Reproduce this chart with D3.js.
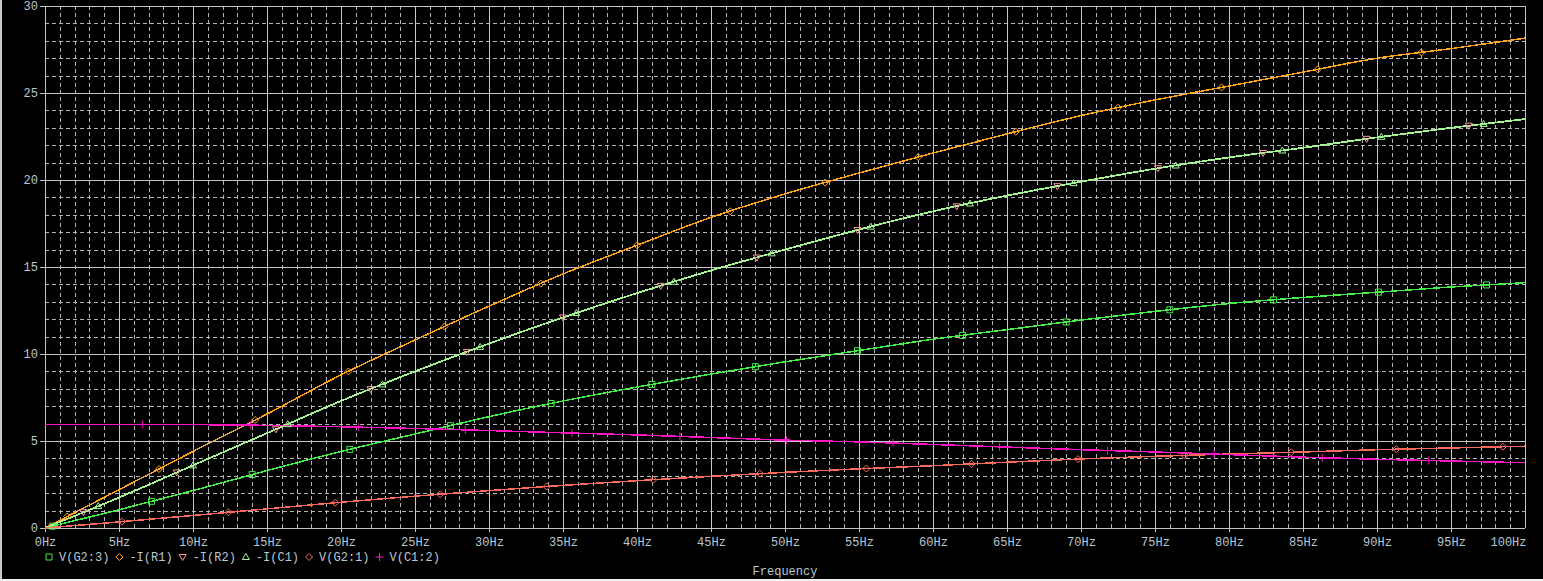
<!DOCTYPE html>
<html>
<head>
<meta charset="utf-8">
<script src="https://cdn.jsdelivr.net/npm/d3@7"></script>
<style>
  html, body { margin: 0; padding: 0; background: #000; overflow: hidden; }
  svg { display: block; }
  text { font-family: "Liberation Mono", "DejaVu Sans Mono", monospace; font-size: 12px; fill: #b8c8d4; }
</style>
</head>
<body>
<script>
// frequency grid (Hz) and the six traces, every 5 Hz
var freq = [0,5,10,15,20,25,30,35,40,45,50,55,60,65,70,75,80,85,90,95,100];
var vG2_3 = [0,1.05,2.15,3.3,4.4,5.4,6.4,7.3,8.1,8.85,9.55,10.2,10.85,11.4,11.95,12.45,12.9,13.25,13.55,13.85,14.1];
var iR1   = [0,2.2,4.4,6.55,8.8,10.8,12.75,14.6,16.25,17.85,19.2,20.4,21.55,22.65,23.7,24.6,25.4,26.2,27.0,27.55,28.15];
var iR2   = [0,1.75,3.6,5.45,7.3,9.0,10.6,12.1,13.5,14.8,16.0,17.15,18.2,19.1,19.9,20.65,21.3,21.85,22.45,23.0,23.5];
var iC1   = [0,1.75,3.6,5.45,7.3,9.0,10.6,12.1,13.5,14.8,16.0,17.15,18.2,19.1,19.9,20.65,21.3,21.85,22.45,23.0,23.5];
var vG2_1 = [0,0.35,0.72,1.1,1.48,1.83,2.15,2.45,2.72,2.97,3.2,3.4,3.58,3.78,3.97,4.12,4.25,4.37,4.5,4.6,4.7];
var vC1_2 = [5.95,5.95,5.94,5.9,5.82,5.72,5.6,5.47,5.35,5.2,5.05,4.95,4.8,4.65,4.5,4.37,4.22,4.07,3.95,3.85,3.75];

// where the probe markers sit along each trace (Hz)
var mkG2_3 = [0.5,7.2,14,20.6,27.4,34.2,41,48,54.9,62,69,76,83,90.1,97.4];
var mkR1   = [1.5,7.7,14.2,20.5,27,33.5,40,46.3,52.7,59,65.6,72.5,79.5,86,93];
var mkR2   = [2.6,8.9,15.6,22,28.5,35,41.6,48.1,54.9,61.6,68.4,75.2,82.3,89.3,96.2];
var mkC1   = [3.6,10,16.4,22.8,29.4,35.9,42.5,49.1,55.8,62.5,69.5,76.4,83.6,90.3,97.2];
var mkG2_1 = [5.2,12.4,19.6,26.7,33.9,41.1,48.3,55.5,62.6,69.8,77,84.2,91.3,98.5];
var mkC1_2 = [6.6,13.9,21.2,28.4,35.6,42.9,50.1,57.3,64.5,71.8,79,86.3,93.5];

var xTicks = d3.range(0, 101, 5);
var yTicks = d3.range(0, 31, 5);

var W = 1543, H = 581;
var plotLeft = 45, plotRight = 1525, plotTop = 6, plotBottom = 528;

var shapes = {
    square: "M-3,-3h6v6h-6z",
    diamond: "M0,-3.5L3.5,0L0,3.5L-3.5,0Z",
    tdown: "M-3.5,-2.5L3.5,-2.5L0,3.5Z",
    tup: "M-3.5,2.5L3.5,2.5L0,-3.5Z",
    plus: "M-4,0H4M0,-4V4"
};

var series = [
    {name: "V(G2:3)", values: vG2_3, marks: mkG2_3, color: "#44f044", shape: "square", w: 1.5},
    {name: "-I(R1)",  values: iR1,   marks: mkR1,   color: "#ffa41c", shape: "diamond", w: 1.5},
    {name: "-I(R2)",  values: iR2,   marks: mkR2,   color: "#ff9a9a", shape: "tdown", w: 1},
    {name: "-I(C1)",  values: iC1,   marks: mkC1,   color: "#a4f494", shape: "tup", w: 1.8},
    {name: "V(G2:1)", values: vG2_1, marks: mkG2_1, color: "#ff6a5a", shape: "diamond", w: 1.5},
    {name: "V(C1:2)", values: vC1_2, marks: mkC1_2, color: "#ff14c4", shape: "plus", w: 1.5}
];

var svg = d3.select("body").append("svg")
    .attr("width", W)
    .attr("height", H);

svg.append("rect").attr("width", W).attr("height", H).attr("fill", "#000");
// window edges
svg.append("rect").attr("x", 0).attr("y", 0).attr("width", 2).attr("height", 579).attr("fill", "#c8c8c8");
svg.append("rect").attr("x", 0).attr("y", 579).attr("width", W).attr("height", 2).attr("fill", "#f2f2f2");

var x = d3.scaleLinear().domain([0, 100]).range([plotLeft, plotRight]);
var y = d3.scaleLinear().domain([0, 30]).range([plotBottom, plotTop]);

// minor grid, dashed
var grid = svg.append("g");
grid.selectAll(".vminor")
    .data(d3.range(1, 100).filter(function(d) { return d % 5 != 0; }))
    .enter().append("line")
    .attr("x1", function(d) { return Math.round(x(d)) + 0.5; })
    .attr("x2", function(d) { return Math.round(x(d)) + 0.5; })
    .attr("y1", plotTop).attr("y2", plotBottom)
    .attr("stroke", "#b4b4b4")
    .attr("stroke-dasharray", "4,3");
grid.selectAll(".hminor")
    .data(d3.range(1, 30).filter(function(d) { return d % 5 != 0; }))
    .enter().append("line")
    .attr("y1", function(d) { return Math.round(y(d)) + 0.5; })
    .attr("y2", function(d) { return Math.round(y(d)) + 0.5; })
    .attr("x1", plotLeft).attr("x2", plotRight)
    .attr("stroke", "#b4b4b4")
    .attr("stroke-dasharray", "4,3");

// major grid, solid, with the axis ticks sticking out
grid.selectAll(".vmajor")
    .data(xTicks)
    .enter().append("line")
    .attr("x1", function(d) { return Math.round(x(d)) + 0.5; })
    .attr("x2", function(d) { return Math.round(x(d)) + 0.5; })
    .attr("y1", plotTop)
    .attr("y2", function(d) { return d == 100 ? plotBottom : plotBottom + 4; })
    .attr("stroke", "#c4c4c4");
grid.selectAll(".hmajor")
    .data(yTicks)
    .enter().append("line")
    .attr("y1", function(d) { return Math.round(y(d)) + 0.5; })
    .attr("y2", function(d) { return Math.round(y(d)) + 0.5; })
    .attr("x1", plotLeft - 5).attr("x2", plotRight)
    .attr("stroke", "#c4c4c4");

// axes (labels only, lines are the grid above)
var xAxis = svg.append("g")
    .attr("transform", "translate(0," + plotBottom + ")")
    .call(d3.axisBottom(x).tickValues(xTicks).tickSize(0).tickPadding(9)
        .tickFormat(function(d) { return d + "Hz"; }));
xAxis.select(".domain").remove();
xAxis.selectAll("text")
    .attr("fill", null)
    .attr("text-anchor", function(d) { return d == 100 ? "end" : "middle"; })
    .attr("dx", function(d) { return d == 100 ? 1 : 0; });
xAxis.attr("font-family", null).attr("font-size", null);

var yAxis = svg.append("g")
    .attr("transform", "translate(" + plotLeft + ",0)")
    .call(d3.axisLeft(y).tickValues(yTicks).tickSize(0).tickPadding(7));
yAxis.select(".domain").remove();
yAxis.selectAll("text").attr("fill", null);
yAxis.attr("font-family", null).attr("font-size", null);

// traces
var line = d3.line()
    .x(function(d, i) { return x(freq[i]); })
    .y(function(d) { return y(d); })
    .curve(d3.curveMonotoneX);

function valueAt(values, f) {
    var i = d3.bisectRight(freq, f) - 1;
    if (i >= freq.length - 1) return values[values.length - 1];
    var t = (f - freq[i]) / (freq[i + 1] - freq[i]);
    return values[i] + t * (values[i + 1] - values[i]);
}

var plot = svg.append("g");
series.forEach(function(s) {
    plot.append("path")
        .datum(s.values)
        .attr("d", line)
        .attr("fill", "none")
        .attr("stroke", s.color)
        .attr("stroke-width", s.w)
        .attr("shape-rendering", "crispEdges");
});
series.forEach(function(s) {
    plot.selectAll(null)
        .data(s.marks)
        .enter().append("path")
        .attr("transform", function(f) {
            return "translate(" + x(f) + "," + y(valueAt(s.values, f)) + ")";
        })
        .attr("d", shapes[s.shape])
        .attr("fill", "none")
        .attr("stroke", s.color)
        .attr("stroke-width", 1);
});

// legend
var legend = svg.append("g").attr("transform", "translate(0,557)");
var lx = 49;
series.forEach(function(s) {
    legend.append("path")
        .attr("transform", "translate(" + lx + ",0)")
        .attr("d", shapes[s.shape])
        .attr("fill", "none")
        .attr("stroke", s.color);
    var t = legend.append("text")
        .attr("x", lx + 10)
        .attr("dy", "0.35em")
        .text(s.name);
    lx += 10 + t.node().getComputedTextLength() + 10;
});

svg.append("text")
    .attr("x", (plotLeft + plotRight) / 2)
    .attr("y", 575)
    .attr("text-anchor", "middle")
    .text("Frequency");
</script>
</body>
</html>
